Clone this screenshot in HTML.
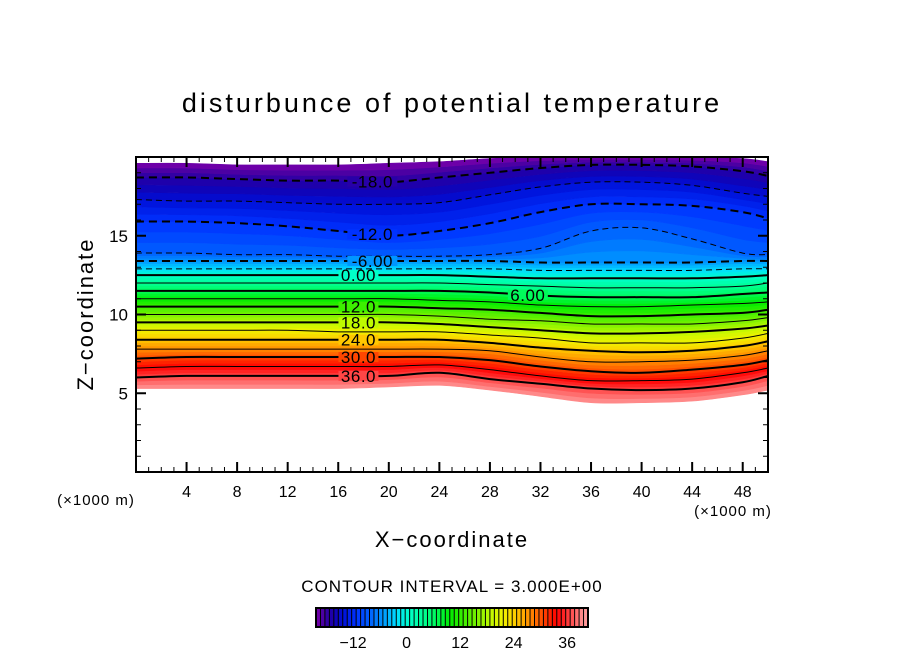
<!DOCTYPE html>
<html><head><meta charset="utf-8"><style>
html,body{margin:0;padding:0;background:#fff;}
svg text{font-family:"Liberation Sans",sans-serif;}
</style></head><body>
<svg id="chart" width="904" height="654" xmlns="http://www.w3.org/2000/svg">
<text x="452" y="112" text-anchor="middle" font-size="27" letter-spacing="3">disturbunce of potential temperature</text>
<g id="fills"></g>
<g id="lines"></g>
<g id="labels"></g>
<rect x="136" y="157" width="632" height="315" fill="none" stroke="#000" stroke-width="2"/>
<g id="axes"></g>
<text x="96" y="505" text-anchor="middle" font-size="15" letter-spacing="1">(×1000 m)</text>
<text x="733" y="516" text-anchor="middle" font-size="15" letter-spacing="1">(×1000 m)</text>
<text x="452" y="547" text-anchor="middle" font-size="22" letter-spacing="2">X−coordinate</text>
<text x="0" y="0" text-anchor="middle" font-size="22" letter-spacing="2" transform="translate(93,314) rotate(-90)">Z−coordinate</text>
<text x="452" y="592" text-anchor="middle" font-size="17" letter-spacing="1">CONTOUR INTERVAL = 3.000E+00</text>
<g id="cbar"></g>
</svg>
<script>
const xs = [0,4,8,12,16,20,24,28,32,36,40,44,48,50];
const levels = [39,36,33,30,27,24,21,18,15,12,9,6,3,0,-3,-6,-9,-12,-15,-18,-21];
const h39 = [5.3,5.3,5.3,5.3,5.3,5.4,5.5,5.2,4.8,4.4,4.4,4.5,4.9,5.2];
const h36 = [6.0,6.1,6.1,6.1,6.1,6.1,6.3,5.9,5.6,5.3,5.2,5.3,5.7,6.1];
const h33 = [6.6,6.7,6.7,6.7,6.7,6.7,6.8,6.5,6.1,5.8,5.8,5.9,6.3,6.6];
const h30 = [7.2,7.3,7.3,7.3,7.3,7.3,7.3,7.1,6.7,6.4,6.3,6.5,6.8,7.1];
const h27 = [7.8,7.8,7.8,7.8,7.8,7.8,7.8,7.7,7.3,7.0,7.0,7.1,7.4,7.7];
const h24 = [8.4,8.4,8.4,8.4,8.4,8.4,8.4,8.2,7.9,7.7,7.6,7.7,8.0,8.3];
const h21 = [9.0,9.0,9.0,9.0,8.9,8.9,8.9,8.7,8.5,8.2,8.2,8.2,8.5,8.8];
const h18 = [9.5,9.5,9.5,9.5,9.5,9.5,9.4,9.2,9.0,8.8,8.8,8.9,9.1,9.3];
const h15 = [10.0,10.0,10.0,10.0,10.0,10.0,9.9,9.7,9.6,9.4,9.4,9.4,9.6,9.8];
const h12 = [10.5,10.5,10.5,10.5,10.5,10.5,10.4,10.3,10.1,9.9,9.9,10.0,10.1,10.3];
const h9 = [11.0,11.0,11.0,11.0,11.0,11.0,10.9,10.8,10.6,10.5,10.5,10.6,10.7,10.8];
const h6 = [11.5,11.5,11.5,11.5,11.5,11.5,11.5,11.4,11.2,11.1,11.1,11.1,11.3,11.4];
const h3 = [12.0,12.0,12.0,12.0,12.0,12.0,12.0,11.9,11.8,11.7,11.7,11.7,11.8,12.0];
const h0 = [12.5,12.5,12.5,12.5,12.5,12.5,12.5,12.4,12.3,12.3,12.3,12.3,12.4,12.5];
const hm3 = [12.9,12.9,12.9,12.9,12.9,12.9,12.9,12.9,12.8,12.8,12.8,12.8,12.9,12.9];
const hm6 = [13.4,13.4,13.4,13.4,13.4,13.4,13.4,13.4,13.3,13.3,13.3,13.3,13.4,13.4];
const hm9 = [13.9,13.9,13.8,13.8,13.7,13.7,13.7,13.8,14.2,15.3,15.5,14.8,13.9,13.8];
const hm12 = [15.9,15.9,15.8,15.6,15.3,15.0,15.3,15.8,16.5,17.0,17.0,16.9,16.5,16.1];
const hm15 = [17.3,17.2,17.2,17.1,17.0,17.0,17.1,17.6,18.1,18.4,18.4,18.2,17.7,17.5];
const hm18 = [18.7,18.7,18.6,18.5,18.5,18.4,18.7,19.0,19.3,19.5,19.5,19.4,19.1,18.8];
const hm21 = [19.6,19.6,19.5,19.5,19.5,19.6,19.7,19.9,20.0,20.0,20.0,20.0,19.9,19.7];
const heights = [h39,h36,h33,h30,h27,h24,h21,h18,h15,h12,h9,h6,h3,h0,hm3,hm6,hm9,hm12,hm15,hm18,hm21];
const xTicks = [4,8,12,16,20,24,28,32,36,40,44,48];
const yTicks = [5,10,15];
const cbarTicks = [-12,0,12,24,36];
const labelVals = ["36.0","30.0","24.0","18.0","12.0","0.00","-6.00","-12.0","-18.0","6.00"];
const labelLevels = [36,30,24,18,12,0,-6,-12,-18,6];
const labelXs = [17.6,17.6,17.6,17.6,17.6,17.6,18.7,18.7,18.7,31.0];

const NS="http://www.w3.org/2000/svg";
const X0=136,X1=768,Y0=472,Y1=157;
const sx=v=>X0+(v-0)/50*(X1-X0);
const sy=v=>Y0-(v-0)/20*(Y0-Y1);
const stops=[[-21,[125,0,170]],[-19,[60,0,160]],[-17,[20,0,175]],[-15,[0,15,215]],[-12,[0,50,255]],[-9,[0,95,255]],[-6,[0,150,255]],[-3,[0,220,255]],[0,[0,255,200]],[3,[0,255,150]],[6,[0,250,90]],[9,[0,235,0]],[12,[60,240,0]],[15,[120,240,0]],[18,[190,250,0]],[21,[240,240,0]],[24,[255,200,0]],[27,[255,140,0]],[30,[255,70,0]],[33,[255,0,0]],[36,[255,70,70]],[39,[255,150,150]],[42,[255,170,170]]];
function col(v){
  if(v<=stops[0][0])return `rgb(${stops[0][1]})`;
  for(let i=1;i<stops.length;i++){if(v<=stops[i][0]){const a=stops[i-1],b=stops[i];const t=(v-a[0])/(b[0]-a[0]);return `rgb(${a[1].map((c,k)=>Math.round(c+(b[1][k]-c)*t)).join(',')})`;}}
  return `rgb(${stops[stops.length-1][1]})`;
}
function mk(tag,attrs,parent){const e=document.createElementNS(NS,tag);for(const k in attrs)e.setAttribute(k,attrs[k]);parent.appendChild(e);return e;}
function linePts(arr){return xs.map((x,i)=>[sx(x),sy(arr[i])]);}
function smooth(pts){let d=`M${pts[0][0]},${pts[0][1]}`;for(let i=0;i<pts.length-1;i++){const p0=pts[Math.max(0,i-1)],p1=pts[i],p2=pts[i+1],p3=pts[Math.min(pts.length-1,i+2)];const c1=[p1[0]+(p2[0]-p0[0])/6,p1[1]+(p2[1]-p0[1])/6],c2=[p2[0]-(p3[0]-p1[0])/6,p2[1]-(p3[1]-p1[1])/6];d+=` C${c1[0]},${c1[1]} ${c2[0]},${c2[1]} ${p2[0]},${p2[1]}`;}return d;}
const fills=document.getElementById('fills'),lines=document.getElementById('lines'),labels=document.getElementById('labels');
const SUB=3;
for(let i=0;i<levels.length-1;i++){
  const a=heights[i],b=heights[i+1];
  for(let s=0;s<SUB;s++){
    const t0=s/SUB,t1=(s+1)/SUB;
    const lo=a.map((v,k)=>v+(b[k]-v)*t0),hi=a.map((v,k)=>v+(b[k]-v)*t1);
    const val=levels[i]+(levels[i+1]-levels[i])*(t0+t1)/2;
    const pl=linePts(lo),ph=linePts(hi).reverse();
    const d=smooth(pl)+' L'+smooth(ph).slice(1)+' Z';
    const p=mk('path',{d:d,fill:col(val),stroke:col(val),'stroke-width':0.6},fills);
    
    
  }
}
for(let i=1;i<levels.length-1;i++){
  const L=levels[i];
  const attrs={d:smooth(linePts(heights[i])),fill:'none',stroke:'#000','stroke-width':(L%6===0)?2:1};
  if(L<0)attrs['stroke-dasharray']=(L%6===0)?'8,5':'6,4';
  const p=mk('path',attrs,lines);
  
  
}
function interpH(arr,x){for(let i=0;i<xs.length-1;i++){if(x<=xs[i+1]){const t=(x-xs[i])/(xs[i+1]-xs[i]);return arr[i]+(arr[i+1]-arr[i])*t;}}return arr[arr.length-1];}
labelVals.forEach((txt,j)=>{
  const idx=levels.indexOf(labelLevels[j]);
  const z=interpH(heights[idx],labelXs[j]);
  const w=txt.length*10;
  const r=mk('rect',{x:sx(labelXs[j])-w/2,y:sy(z)-5,width:w,height:10,fill:col(levels[idx])},labels);
  
  
  const t=mk('text',{x:sx(labelXs[j]),y:sy(z)+6,'text-anchor':'middle','font-size':17,'letter-spacing':0.5},labels);
  t.textContent=txt;
  
  
});
const axes=document.getElementById('axes');
for(let v=1;v<50;v++){
  const major=xTicks.includes(v);const len=major?10:5;
  const a=mk('line',{x1:sx(v),x2:sx(v),y1:Y0,y2:Y0-len,stroke:'#000','stroke-width':major?2:1},axes);
  
  const b=mk('line',{x1:sx(v),x2:sx(v),y1:Y1,y2:Y1+len,stroke:'#000','stroke-width':major?2:1},axes);
  
}
xTicks.forEach(v=>{const t=mk('text',{x:sx(v),y:497,'text-anchor':'middle','font-size':16},axes);t.textContent=v;});
for(let v=1;v<20;v++){
  const major=yTicks.includes(v);const len=major?10:5;
  const a=mk('line',{x1:X0,x2:X0+len,y1:sy(v),y2:sy(v),stroke:'#000','stroke-width':major?2:1},axes);
  
  const b=mk('line',{x1:X1,x2:X1-len,y1:sy(v),y2:sy(v),stroke:'#000','stroke-width':major?2:1},axes);
  
}
yTicks.forEach(v=>{const t=mk('text',{x:128,y:sy(v)+6,'text-anchor':'end','font-size':17},axes);t.textContent=v;});
const cb=document.getElementById('cbar');
const CB0=316,CB1=588,CV0=-21,CV1=40;
const cx=v=>CB0+(v-CV0)/(CV1-CV0)*(CB1-CB0);
for(let v=CV0;v<CV1;v++){
  const r=mk('rect',{x:cx(v),y:608,width:cx(v+1)-cx(v),height:19,fill:col(v+0.5)},cb);
  
  const l=mk('line',{x1:cx(v),x2:cx(v),y1:608,y2:627,stroke:'#000','stroke-width':1},cb);
  
}
const fr=mk('rect',{x:CB0,y:608,width:CB1-CB0,height:19,fill:'none',stroke:'#000','stroke-width':2},cb);

cbarTicks.forEach(v=>{const t=mk('text',{x:cx(v)-3,y:648,'text-anchor':'middle','font-size':16},cb);t.textContent=v<0?'−'+(-v):v;});
</script>
</body></html>
